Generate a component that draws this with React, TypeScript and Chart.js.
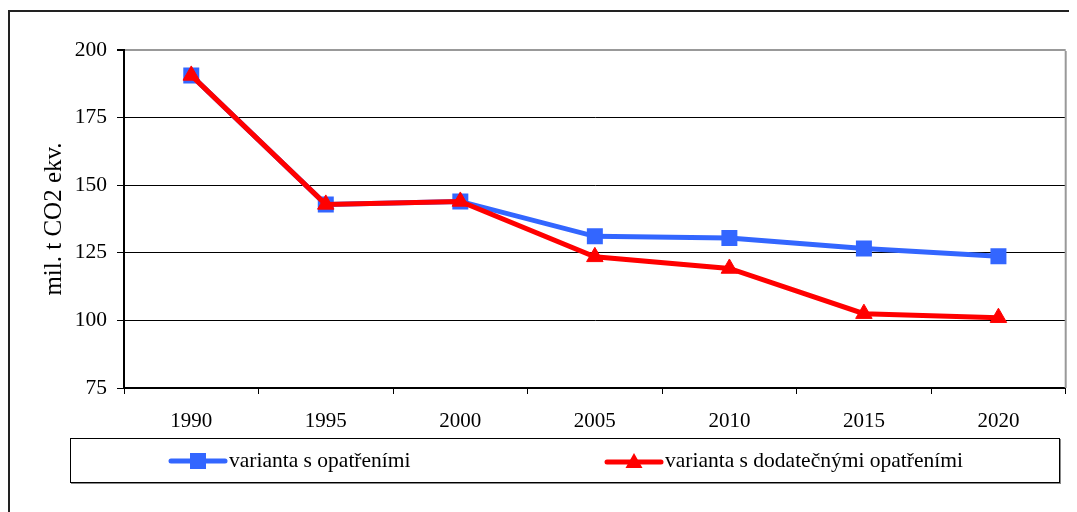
import React, { useEffect, useRef } from "react";
import { Chart, registerables } from "chart.js";

Chart.register(...registerables);

const years = ["1990", "1995", "2000", "2005", "2010", "2015", "2020"];
const seriesA = [190.6, 142.9, 144.0, 131.1, 130.5, 126.6, 123.7];
const seriesB = [190.6, 142.9, 144.0, 123.5, 119.2, 102.5, 101.0];
const labelA = "varianta s opatřeními";
const labelB = "varianta s dodatečnými opatřeními";
const yTitle = "mil. t CO2 ekv.";
const yMin = 75;
const yMax = 200;
const yStep = 25;

const FONT = "'Liberation Serif', 'Times New Roman', serif";
const BLUE = "#3366FF";
const RED = "#FF0000";

const plotFrame = {
  id: "plotFrame",
  afterDatasetsDraw(chart: any) {
    const { ctx, chartArea } = chart;
    ctx.save();
    ctx.strokeStyle = "#999999";
    ctx.lineWidth = 2;
    ctx.beginPath();
    ctx.moveTo(chartArea.right, chartArea.top + 1);
    ctx.lineTo(chartArea.right, chartArea.bottom);
    ctx.stroke();
    ctx.restore();
  },
};

export default function App() {
  const ref = useRef<HTMLCanvasElement>(null);

  useEffect(() => {
    if (!ref.current) return;
    const chart = new Chart(ref.current, {
      type: "line",
      data: {
        labels: years,
        datasets: [
          {
            label: labelA,
            data: seriesA,
            borderColor: BLUE,
            backgroundColor: BLUE,
            borderWidth: 5,
            pointStyle: "rect",
            pointRadius: 11.3,
            pointBorderWidth: 0,
            pointBackgroundColor: BLUE,
            tension: 0,
            order: 1,
          },
          {
            label: labelB,
            data: seriesB,
            borderColor: RED,
            backgroundColor: RED,
            borderWidth: 5,
            pointStyle: "triangle",
            pointRadius: 9.5,
            pointBorderWidth: 1,
            pointBorderColor: RED,
            pointBackgroundColor: RED,
            tension: 0,
            order: 0,
          },
        ],
      },
      options: {
        responsive: false,
        animation: false,
        layout: { padding: { top: 42, right: 9, left: 0, bottom: 0 } },
        plugins: {
          legend: { display: false },
          tooltip: { enabled: false },
        },
        scales: {
          x: {
            type: "category",
            offset: true,
            afterFit: (s: any) => {
              s.height = 124;
            },
            grid: {
              offset: true,
              drawOnChartArea: false,
              drawTicks: true,
              tickLength: 6,
              tickColor: "#000",
              tickWidth: 1,
            },
            border: { color: "#000", width: 2 },
            ticks: {
              color: "#000",
              padding: 15,
              maxRotation: 0,
              font: { family: FONT, size: 21 },
            },
          },
          y: {
            min: yMin,
            max: yMax,
            afterFit: (s: any) => {
              s.width = 116;
            },
            grid: {
              color: (c: any) =>
                c.tick && c.tick.value === yMax ? "#999999" : "#000000",
              lineWidth: (c: any) =>
                c.tick && c.tick.value === yMax ? 2 : 1,
              drawTicks: true,
              tickLength: 7,
              tickColor: "#000",
            },
            border: { color: "#000", width: 2 },
            ticks: {
              stepSize: yStep,
              color: "#000",
              padding: 10,
              font: { family: FONT, size: 21.5 },
            },
            title: {
              display: true,
              text: yTitle,
              color: "#000",
              font: { family: FONT, size: 25 },
              padding: { top: 31, bottom: 0 },
            },
          },
        },
      },
      plugins: [plotFrame],
    });
    return () => chart.destroy();
  }, []);

  const textStyle: React.CSSProperties = {
    fontFamily: FONT,
    fontSize: 21.5,
    color: "#000",
    whiteSpace: "nowrap",
  };

  return (
    <div style={{ position: "relative", width: 1069, height: 504 }}>
      <div
        style={{
          position: "absolute",
          left: 0,
          top: 2,
          width: 1069,
          height: 502,
          borderLeft: "2px solid #222",
          borderTop: "2px solid #222",
          boxSizing: "border-box",
        }}
      />
      <canvas
        ref={ref}
        width={1069}
        height={504}
        style={{ position: "absolute", left: 0, top: 0, width: 1069, height: 504 }}
      />
      <div
        style={{
          position: "absolute",
          left: 62,
          top: 430,
          width: 990,
          height: 45,
          border: "1px solid #000",
          boxShadow: "1px 1px 0 #888",
          boxSizing: "border-box",
          background: "#fff",
        }}
      >
        <div style={{ position: "absolute", left: 97, top: 0, height: 43, display: "flex", alignItems: "center" }}>
          <svg width={60} height={20} style={{ display: "block" }}>
            <line x1={3} y1={10} x2={57} y2={10} stroke={BLUE} strokeWidth={5} strokeLinecap="round" />
            <rect x={22} y={2} width={16} height={16} fill={BLUE} />
          </svg>
          <span style={{ ...textStyle, marginLeft: 1 }}>{labelA}</span>
        </div>
        <div style={{ position: "absolute", left: 533, top: 0, height: 43, display: "flex", alignItems: "center" }}>
          <svg width={60} height={20} style={{ display: "block" }}>
            <line x1={3} y1={11} x2={57} y2={11} stroke={RED} strokeWidth={5} strokeLinecap="round" />
            <polygon points="30,2 38.5,17 21.5,17" fill={RED} />
          </svg>
          <span style={{ ...textStyle, marginLeft: 1 }}>{labelB}</span>
        </div>
      </div>
    </div>
  );
}
